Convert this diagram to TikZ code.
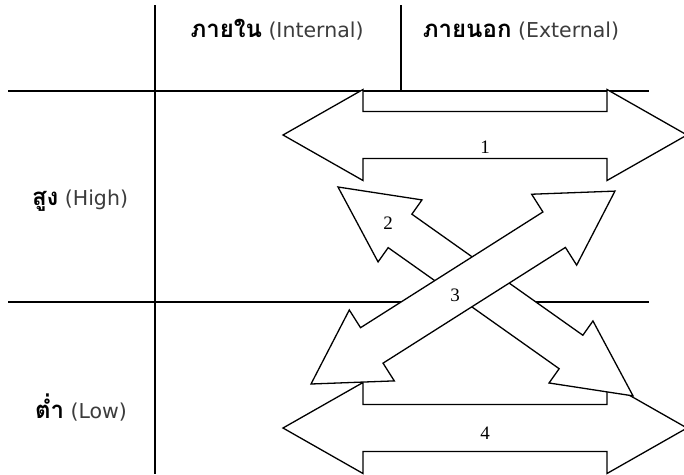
\documentclass[tikz,border=0pt]{standalone}
\usepackage{fontspec}
\setmainfont{DejaVu Sans}
\newfontfamily\thaifont[Script=Thai]{Loma}
\newfontfamily\numfont{Liberation Serif}
\definecolor{latingray}{RGB}{60,60,60}
\tikzset{
  grid/.style={line width=1.6pt, black},
  bigarrow/.style={draw=black, fill=white, line width=1.3pt, line join=miter},
  head/.style={font=\fontsize{20.5}{24}\selectfont, anchor=base, inner sep=0pt},
  num/.style={font=\numfont\fontsize{19}{21}\selectfont, inner sep=0pt}
}
\newcommand{\thai}[1]{{\thaifont\bfseries\fontsize{24}{26}\selectfont #1}}
\newcommand{\lat}[1]{{\color{latingray}#1}}
\begin{document}
\begin{tikzpicture}[x=1pt,y=-1pt]
\clip (0,0) rectangle (684,474);
\fill[white] (0,0) rectangle (684,474);
% grid lines
\coordinate (v1t) at (155,5);
\coordinate (v1b) at (155,474);
\coordinate (v2t) at (401,5);
\coordinate (v2b) at (401,91);
\coordinate (h1l) at (8,91);
\coordinate (h1r) at (649,91);
\coordinate (h2l) at (8,302);
\coordinate (h2r) at (649,302);
\draw[grid] (v1t) -- (v1b);
\draw[grid] (v2t) -- (v2b);
\draw[grid] (h1l) -- (h1r);
\draw[grid] (h2l) -- (h2r);
% header texts
\node[head] (internal) at (277,37) {\thai{ภายใน} \lat{(Internal)}};
\node[head] (external) at (521,37) {\thai{ภายนอก} \lat{(External)}};
\node[head] (high) at (80,205) {\thai{สูง} \lat{(High)}};
\node[head] (low) at (81,418) {\thai{ต่ำ} \lat{(Low)}};
% arrow 1
\draw[bigarrow] (283,135) -- (363,89.5) -- (363,111.5) -- (607,111.5) -- (607,89.5)
  -- (687,135) -- (607,180.5) -- (607,158.5) -- (363,158.5) -- (363,180.5) -- cycle;
\node[num] (n1) at (485,147) {1};
% arrow 4
\draw[bigarrow] (283,428) -- (363,382.5) -- (363,404.5) -- (607,404.5) -- (607,382.5)
  -- (687,428) -- (607,473.5) -- (607,451.5) -- (363,451.5) -- (363,473.5) -- cycle;
\node[num] (n4) at (485,433) {4};
% arrow 2 (upper-left to lower-right)
\begin{scope}[shift={(338,187)}, rotate=-35.3]
\draw[bigarrow] (0,0) -- (76,38) -- (76,20.5) -- (285.5,20.5) -- (285.5,38) -- (361.5,0)
  -- (285.5,-38) -- (285.5,-20.5) -- (76,-20.5) -- (76,-38) -- cycle;
\end{scope}
\node[num] (n2) at (388,223) {2};
% arrow 3 (lower-left to upper-right)
\begin{scope}[shift={(311,384)}, rotate=32.4]
\draw[bigarrow] (0,0) -- (72,42) -- (72,21) -- (288,21) -- (288,42) -- (360,0)
  -- (288,-42) -- (288,-21) -- (72,-21) -- (72,-42) -- cycle;
\end{scope}
\node[num] (n3) at (455,295) {3};
\end{tikzpicture}
\end{document}
